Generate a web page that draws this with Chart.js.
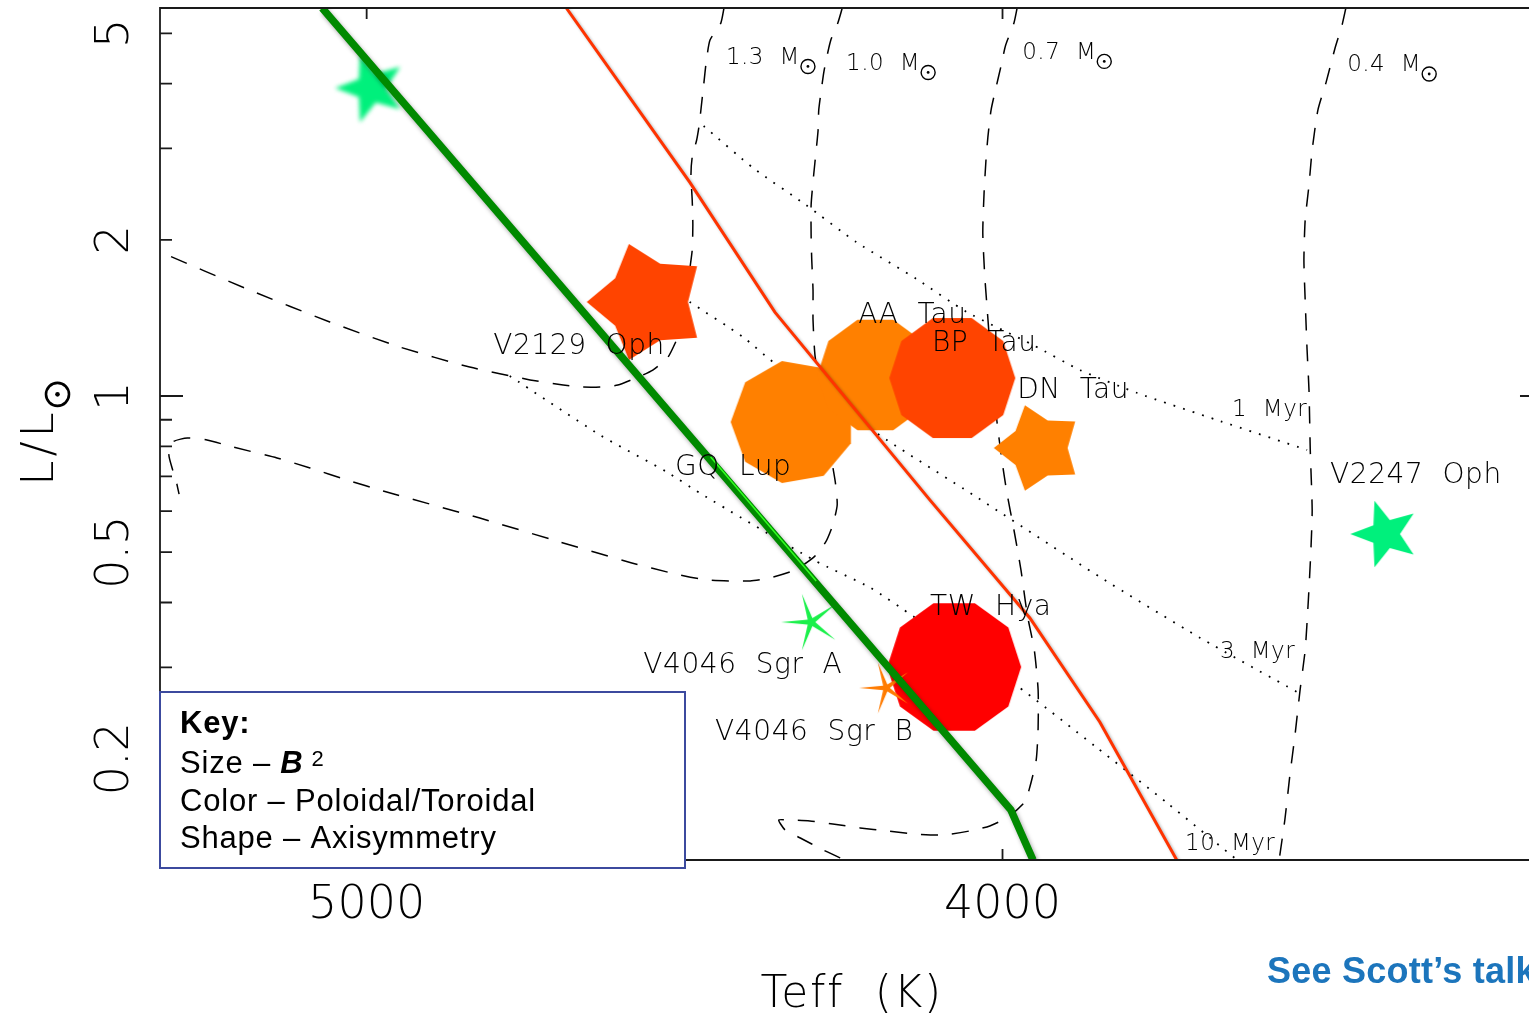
<!DOCTYPE html>
<html>
<head>
<meta charset="utf-8">
<title>Magnetic topologies on the HR diagram</title>
<script src="https://cdn.jsdelivr.net/npm/chart.js@4.4.1/dist/chart.umd.min.js"></script>
<style>
  html, body { margin: 0; padding: 0; background: #fff; overflow: hidden; }
  #hr { display: block; }
</style>
</head>
<body>
<canvas id="hr" width="1529" height="1018"></canvas>
<script>
// ---------------- stars (Teff in K, luminosity in L_sun) ----------------
const starNames = ['', 'V2129 Oph', 'GQ Lup', 'AA Tau', 'BP Tau', 'DN Tau', 'TW Hya', 'V4046 Sgr A', 'V4046 Sgr B', 'V2247 Oph'];
const starTeff  = [4993, 4558, 4330, 4200, 4079, 3943, 4076, 4301, 4183, 3398];
const starLum   = [3.922, 1.518, 0.891, 1.098, 1.083, 0.794, 0.3005, 0.3667, 0.2738, 0.542];

// ---------------- star name labels (left edge, mid-cap height) ----------------
const starLabelText = ['V2129 Oph', 'AA Tau', 'BP Tau', 'DN Tau', 'GQ Lup', 'TW Hya', 'V4046 Sgr A', 'V4046 Sgr B', 'V2247 Oph'];
const starLabelTeff = [4801, 4227, 4111, 3977, 4515, 4114, 4565, 4452, 3485];
const starLabelLum  = [1.259, 1.445, 1.276, 1.036, 0.736, 0.3956, 0.3059, 0.2272, 0.7107];

// ---------------- evolutionary tracks ----------------
const trackMasses = ['1.3', '1.0', '0.7', '0.4'];
const massLabelTeff = [4435, 4246, 3969, 3458];
const massLabelLum  = [4.530, 4.411, 4.632, 4.381];

const track13Teff = [4438, 4443, 4460, 4466, 4470, 4474, 4477, 4481, 4488, 4490, 4488, 4487, 4488, 4493, 4496, 4502, 4514, 4526, 4550, 4573, 4605, 4633, 4665, 4691, 4743, 4838, 4948, 5058, 5184, 5325];
const track13Lum  = [5.594, 5.232, 4.852, 4.401, 3.974, 3.589, 3.328, 3.114, 2.887, 2.666, 2.386, 2.136, 1.911, 1.710, 1.531, 1.370, 1.271, 1.189, 1.122, 1.088, 1.050, 1.041, 1.041, 1.050, 1.074, 1.137, 1.243, 1.389, 1.600, 1.895];

const track10Teff = [4252, 4259, 4270, 4276, 4281, 4285, 4289, 4290, 4293, 4297, 4301, 4301, 4300, 4298, 4298, 4295, 4285, 4273, 4263, 4260, 4267, 4278, 4295, 4326, 4366, 4397, 4465, 4521, 4583, 4696, 4822, 4974, 5031, 5089, 5141, 5210, 5251, 5282, 5305, 5311, 5306, 5300, 5295];
const track10Lum  = [5.594, 5.233, 4.852, 4.520, 4.210, 3.887, 3.557, 3.255, 2.979, 2.666, 2.334, 2.043, 1.828, 1.600, 1.401, 1.200, 0.982, 0.804, 0.683, 0.6166, 0.564, 0.5233, 0.4915, 0.4622, 0.4460, 0.4401, 0.4421, 0.456, 0.4768, 0.5233, 0.5818, 0.656, 0.689, 0.7266, 0.7596, 0.7973, 0.8227, 0.8300, 0.8156, 0.7697, 0.7266, 0.689, 0.647];

const track07Teff = [3977, 3982, 3995, 4002, 4010, 4018, 4023, 4026, 4029, 4031, 4028, 4024, 4018, 4009, 4001, 3993, 3982, 3971, 3961, 3950, 3944, 3944, 3947, 3957, 3965, 3991, 4020, 4051, 4094, 4138, 4182, 4224, 4267, 4303, 4339, 4352, 4342, 4318, 4282, 4248];
const track07Lum  = [5.594, 5.233, 4.746, 4.344, 3.939, 3.557, 3.155, 2.849, 2.461, 2.061, 1.710, 1.465, 1.173, 0.899, 0.7527, 0.650, 0.5518, 0.4622, 0.3785, 0.324, 0.2714, 0.2292, 0.1989, 0.1764, 0.1651, 0.1544, 0.1484, 0.1452, 0.1426, 0.1432, 0.1452, 0.1471, 0.1497, 0.1517, 0.1524, 0.1524, 0.1458, 0.1407, 0.1334, 0.1276];

const track04Teff = [3460, 3466, 3477, 3491, 3504, 3513, 3518, 3524, 3526, 3524, 3521, 3518, 3516, 3513, 3515, 3519, 3524, 3532, 3540, 3548, 3556, 3565];
const track04Lum  = [5.594, 5.186, 4.683, 4.027, 3.557, 2.979, 2.550, 2.183, 1.828, 1.531, 1.226, 1.027, 0.787, 0.603, 0.505, 0.4045, 0.324, 0.2714, 0.2222, 0.1861, 0.1524, 0.1276];

// ---------------- isochrones ----------------
const isoAges = ['1 Myr', '3 Myr', '10 Myr'];
const ageLabelTeff = [3639, 3658, 3713];
const ageLabelLum  = [0.948, 0.324, 0.1382];

const iso1Teff  = [4470, 4392, 4309, 4230, 4135, 4056, 3952, 3878, 3788, 3658, 3521];
const iso1Lum   = [3.313, 2.750, 2.334, 1.980, 1.680, 1.451, 1.254, 1.122, 1.0134, 0.895, 0.787];
const iso3Teff  = [4492, 4408, 4361, 4182, 4046, 3847, 3689, 3537];
const iso3Lum   = [1.518, 1.299, 1.163, 0.8227, 0.6447, 0.448, 0.3418, 0.269];
const iso10Teff = [4775, 4633, 4528, 4476, 4297, 4207, 4139, 3979, 3853, 3741, 3631];
const iso10Lum  = [1.093, 0.841, 0.714, 0.650, 0.4831, 0.4266, 0.3752, 0.2774, 0.2107, 0.1643, 0.1276];

// ---------------- boundary lines ----------------
const redLineTeff   = [4686, 4492, 4358, 4114, 3957, 3847, 3726];
const redLineLum    = [5.594, 2.584, 1.451, 0.630, 0.3735, 0.2354, 0.1276];
const greenLineTeff = [5070, 3987, 3952];
const greenLineLum  = [5.594, 0.1594, 0.1276];
const limeLineTeff  = [4459, 4293];
const limeLineLum   = [0.763, 0.440];

// ---------------- axes ----------------
const xTicks = [5000, 4000];
const xAxisRightEdge = 3150;   // Teff where the (cropped) right-hand axis sits
const yTickLabels = [5, 2, 1, 0.5, 0.2];
const yTickMarks = [5, 4, 3, 2, 1, 0.9, 0.8, 0.7, 0.6, 0.5, 0.4, 0.3, 0.2];

// ---------------- marker shapes (size ~ B^2, colour ~ poloidal/toroidal, shape ~ axisymmetry) ----------------
const markStyle = [
  { shape: 'star', R: 36, inner: 0.42, color: '#00f07c', blur: 2.2 },
  { shape: 'star', R: 61, inner: 0.66, color: '#ff4400' },
  { shape: 'poly', n: 9,  R: 62, color: '#ff8000' },
  { shape: 'poly', n: 10, R: 58, color: '#ff8000' },
  { shape: 'poly', n: 10, R: 63, color: '#ff4400' },
  { shape: 'star', R: 45, inner: 0.64, color: '#ff8000' },
  { shape: 'poly', n: 10, R: 67, color: '#ff0000' },
  { shape: 'star', R: 30, inner: 0.14, color: '#1af04a' },
  { shape: 'star', R: 27, inner: 0.14, color: '#ff7b00' },
  { shape: 'star', R: 35, inner: 0.42, color: '#00f07c' }
];

function shapeCanvas(st) {
  const blur = st.blur || 0;
  const pad = Math.ceil(blur * 3) + 2;
  const size = 2 * Math.ceil(st.R) + 2 * pad;
  const c = document.createElement('canvas');
  c.width = size; c.height = size;
  const g = c.getContext('2d');
  if (blur) g.filter = 'blur(' + blur + 'px)';
  g.translate(size / 2, size / 2);
  g.beginPath();
  if (st.shape === 'star') {
    for (let i = 0; i < 10; i++) {
      const a = Math.PI + i * Math.PI / 5;
      const r = i % 2 ? st.R * st.inner : st.R;
      g.lineTo(r * Math.cos(a), -r * Math.sin(a));
    }
  } else {
    for (let i = 0; i < st.n; i++) {
      const a = Math.PI + i * 2 * Math.PI / st.n;
      g.lineTo(st.R * Math.cos(a), -st.R * Math.sin(a));
    }
  }
  g.closePath();
  g.fillStyle = st.color;
  g.fill();
  return c;
}
const markImages = markStyle.map(shapeCanvas);

const pts = (xs, ys) => xs.map((v, i) => ({ x: v, y: ys[i] }));

const trackStyle = { showLine: true, pointRadius: 0, borderColor: '#000', borderWidth: 1.5, borderDash: [17, 14], tension: 0.2, fill: false, order: 5 };
const isoStyle   = { showLine: true, pointRadius: 0, borderColor: '#000', borderWidth: 1.8, borderDash: [1.8, 8.2], tension: 0.2, fill: false, order: 4 };

const datasets = [
  Object.assign({ label: '1.3', data: pts(track13Teff, track13Lum) }, trackStyle),
  Object.assign({ label: '1.0', data: pts(track10Teff, track10Lum) }, trackStyle),
  Object.assign({ label: '0.7', data: pts(track07Teff, track07Lum) }, trackStyle),
  Object.assign({ label: '0.4', data: pts(track04Teff, track04Lum) }, trackStyle),
  Object.assign({ label: '1 Myr', data: pts(iso1Teff, iso1Lum) }, isoStyle),
  Object.assign({ label: '3 Myr', data: pts(iso3Teff, iso3Lum) }, isoStyle),
  Object.assign({ label: '10 Myr', data: pts(iso10Teff, iso10Lum) }, isoStyle),
  { label: 'stars', data: pts(starTeff, starLum), showLine: false, pointStyle: markImages, pointRadius: 2, order: 3 },
  { label: 'red', data: pts(redLineTeff, redLineLum), showLine: true, pointRadius: 0, borderColor: '#ff3300', borderWidth: 3, tension: 0, order: 2,
    shadow: { color: 'rgba(0,0,0,0.30)', blur: 3, dx: 2, dy: 2 } },
  { label: 'green', data: pts(greenLineTeff, greenLineLum), showLine: true, pointRadius: 0, borderColor: '#008a00', borderWidth: 7.5, tension: 0, order: 1,
    borderJoinStyle: 'miter', shadow: { color: 'rgba(0,0,0,0.35)', blur: 4, dx: 2, dy: 3 } },
  { label: 'lime', data: pts(limeLineTeff, limeLineLum), showLine: true, pointRadius: 0, borderColor: '#33ff22', borderWidth: 1.5, order: 0 }
];

const PLOT_FONT = '"DejaVu Sans", "Liberation Sans", sans-serif';
const THIN = '200';

function sun(ctx, cx, cy, r, lw) {
  ctx.beginPath();
  ctx.lineWidth = lw;
  ctx.arc(cx, cy, r, 0, 2 * Math.PI);
  ctx.stroke();
  ctx.beginPath();
  ctx.arc(cx, cy, Math.max(1.3, r * 0.2), 0, 2 * Math.PI);
  ctx.fill();
}

const shadowPlugin = {
  id: 'lineShadow',
  beforeDatasetDraw(chart, args) {
    const ds = chart.data.datasets[args.index];
    if (!ds.shadow) return;
    const ctx = chart.ctx;
    ctx.save();
    ctx.shadowColor = ds.shadow.color;
    ctx.shadowBlur = ds.shadow.blur;
    ctx.shadowOffsetX = ds.shadow.dx;
    ctx.shadowOffsetY = ds.shadow.dy;
  },
  afterDatasetDraw(chart, args) {
    const ds = chart.data.datasets[args.index];
    if (ds.shadow) chart.ctx.restore();
  }
};

const decoPlugin = {
  id: 'deco',
  afterDatasetsDraw(chart) {
    const { ctx, chartArea: a, scales: { x, y } } = chart;
    ctx.save();
    ctx.fillStyle = '#000';
    ctx.strokeStyle = '#000';
    ctx.textAlign = 'left';
    ctx.textBaseline = 'alphabetic';

    // star names
    ctx.font = THIN + ' 28px ' + PLOT_FONT;
    ctx.letterSpacing = '0.6px';
    starLabelText.forEach((t, i) => {
      ctx.fillText(t.replace(/ /g, '  '), x.getPixelForValue(starLabelTeff[i]), y.getPixelForValue(starLabelLum[i]) + 0.365 * 28);
    });

    // track masses and isochrone ages
    ctx.font = THIN + ' 23px ' + PLOT_FONT;
    ctx.letterSpacing = '0.5px';
    trackMasses.forEach((m, i) => {
      const px = x.getPixelForValue(massLabelTeff[i]);
      const base = y.getPixelForValue(massLabelLum[i]) + 0.365 * 23;
      const s = m + '  M';
      ctx.fillText(s, px, base);
      const w = ctx.measureText(s).width;
      sun(ctx, px + w + 8, base + 2.5, 7, 1.4);
    });
    isoAges.forEach((t, i) => {
      ctx.fillText(t.replace(/ /g, '  '), x.getPixelForValue(ageLabelTeff[i]), y.getPixelForValue(ageLabelLum[i]) + 0.365 * 23);
    });

    // frame: left, top and bottom axes; the right axis lies just past the visible edge
    const xr = x.getPixelForValue(xAxisRightEdge);
    ctx.strokeStyle = '#1a1a1a';
    ctx.lineWidth = 1.8;
    ctx.beginPath();
    ctx.moveTo(xr, a.top); ctx.lineTo(a.left, a.top); ctx.lineTo(a.left, a.bottom); ctx.lineTo(xr, a.bottom);
    ctx.stroke();
    ctx.beginPath();
    yTickMarks.forEach(v => {
      const py = y.getPixelForValue(v);
      const len = Number.isInteger(Math.log10(v)) ? 23 : 12;
      ctx.moveTo(a.left, py); ctx.lineTo(a.left + len, py);
      ctx.moveTo(xr, py); ctx.lineTo(xr - len, py);
    });
    xTicks.forEach(v => {
      const px = x.getPixelForValue(v);
      ctx.moveTo(px, a.top); ctx.lineTo(px, a.top + 11);
      ctx.moveTo(px, a.bottom); ctx.lineTo(px, a.bottom - 11);
    });
    ctx.stroke();

    // tick labels
    ctx.fillStyle = '#000';
    ctx.font = THIN + ' 46px ' + PLOT_FONT;
    ctx.letterSpacing = '0px';
    ctx.textAlign = 'center';
    xTicks.forEach(v => ctx.fillText(String(v), x.getPixelForValue(v), a.bottom + 58));
    yTickLabels.forEach(v => {
      ctx.save();
      ctx.translate(a.left - 32, y.getPixelForValue(v));
      ctx.rotate(-Math.PI / 2);
      ctx.fillText(String(v), 0, 0);
      ctx.restore();
    });

    // axis titles
    ctx.font = THIN + ' 44px ' + PLOT_FONT;
    ctx.letterSpacing = '1.5px';
    ctx.fillText('Teff  (K)', (a.left + xr) / 2, a.bottom + 147);

    ctx.save();
    ctx.translate(a.left - 107, (a.top + a.bottom) / 2);
    ctx.rotate(-Math.PI / 2);
    ctx.font = THIN + ' 45px ' + PLOT_FONT;
    ctx.letterSpacing = '4px';
    ctx.textAlign = 'left';
    const lw = ctx.measureText('L/L').width;
    const total = lw + 2 + 24;
    const x0 = -total / 2;
    ctx.fillText('L/L', x0, 0);
    ctx.strokeStyle = '#000';
    sun(ctx, x0 + lw + 2 + 12, 4.5, 11.5, 2.6);
    ctx.restore();

    ctx.restore();
  },
  afterDraw(chart) {
    const { ctx, chartArea: a } = chart;
    ctx.save();
    // key box
    const bx = a.left, by = a.bottom - 168, bw = 525, bh = 176;
    ctx.fillStyle = '#fff';
    ctx.fillRect(bx, by, bw, bh);
    ctx.strokeStyle = '#3c4a9e';
    ctx.lineWidth = 2;
    ctx.strokeRect(bx, by, bw, bh);

    ctx.fillStyle = '#000';
    ctx.textAlign = 'left';
    ctx.textBaseline = 'alphabetic';
    ctx.letterSpacing = '0.8px';
    const tx = bx + 20;
    ctx.font = 'bold 31px "Liberation Sans", Arial, sans-serif';
    ctx.fillText('Key:', tx, by + 41);
    ctx.font = '31px "Liberation Sans", Arial, sans-serif';
    const s1 = 'Size \u2013 ';
    ctx.fillText(s1, tx, by + 81);
    let w = ctx.measureText(s1).width;
    ctx.font = 'italic bold 31px "Liberation Sans", Arial, sans-serif';
    ctx.fillText('B', tx + w, by + 81);
    w += ctx.measureText('B').width;
    ctx.font = '22px "Liberation Sans", Arial, sans-serif';
    ctx.fillText('2', tx + w + 8, by + 74);
    ctx.font = '31px "Liberation Sans", Arial, sans-serif';
    ctx.fillText('Color \u2013 Poloidal/Toroidal', tx, by + 119);
    ctx.fillText('Shape \u2013 Axisymmetry', tx, by + 156);

    // note
    ctx.letterSpacing = '0.25px';
    ctx.fillStyle = '#1c75bc';
    ctx.font = 'bold 36px "Liberation Sans", Arial, sans-serif';
    ctx.fillText('See Scott\u2019s talk', 1267, 983);
    ctx.restore();
  }
};

new Chart(document.getElementById('hr'), {
  type: 'scatter',
  data: { datasets },
  options: {
    responsive: false,
    animation: false,
    events: [],
    layout: { autoPadding: false, padding: { left: 160, top: 8, right: 0, bottom: 158 } },
    plugins: { legend: { display: false }, tooltip: { enabled: false } },
    scales: {
      x: { type: 'linear', display: false, reverse: true, min: 3172, max: 5325, bounds: 'data' },
      y: { type: 'logarithmic', display: false, min: 0.1276, max: 5.594, bounds: 'data' }
    }
  },
  plugins: [shadowPlugin, decoPlugin]
});
</script>
</body>
</html>
